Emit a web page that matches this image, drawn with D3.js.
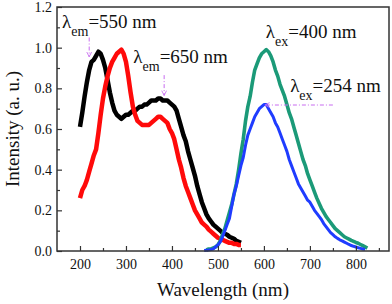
<!DOCTYPE html>
<html>
<head>
<meta charset="utf-8">
<script src="https://cdn.jsdelivr.net/npm/d3@7"></script>
<style>
  body { margin: 0; background: #fff; }
  svg { display: block; }
  svg text { font-family: "Liberation Serif", Tinos, "Times New Roman", "DejaVu Serif", serif !important; fill: #111; }
</style>
</head>
<body>
<svg id="chart" width="392" height="304"></svg>
<script>
// excitation spectra (monitored at 550 / 650 nm), 200-550 nm, step 5
const excWave = d3.range(200, 551, 5);
const exc550 = [0.61,0.68,0.76,0.83,0.89,0.93,0.94,0.96,0.98,0.97,0.94,0.90,0.84,0.78,0.73,0.69,0.67,0.66,0.65,0.66,
  0.67,0.67,0.68,0.69,0.69,0.70,0.71,0.71,0.72,0.72,0.73,0.74,0.74,0.74,0.75,0.75,0.74,0.74,0.74,0.73,
  0.72,0.71,0.69,0.65,0.61,0.57,0.54,0.49,0.45,0.41,0.37,0.32,0.28,0.24,0.21,0.18,0.16,0.145,0.13,0.12,
  0.11,0.10,0.09,0.085,0.08,0.07,0.065,0.06,0.05,0.045,0.04];
const exc650 = [0.26,0.30,0.32,0.35,0.39,0.43,0.47,0.50,0.58,0.67,0.75,0.81,0.86,0.90,0.93,0.95,0.97,0.98,0.99,0.97,
  0.93,0.86,0.78,0.71,0.67,0.64,0.63,0.62,0.62,0.62,0.62,0.63,0.64,0.65,0.66,0.66,0.65,0.64,0.63,0.60,
  0.58,0.55,0.50,0.45,0.41,0.36,0.32,0.29,0.26,0.23,0.20,0.18,0.16,0.14,0.13,0.12,0.105,0.095,0.085,0.075,
  0.065,0.06,0.055,0.05,0.045,0.04,0.04,0.035,0.035,0.03,0.03];

// emission spectra (excited at 400 / 254 nm)
const em400Wave = d3.range(475, 826, 5);
const em400 = [0.005,0.01,0.01,0.015,0.02,0.03,0.05,0.08,0.11,0.15,0.19,0.23,0.28,0.33,0.40,0.48,0.55,0.64,0.71,0.76,
  0.83,0.89,0.92,0.95,0.97,0.98,0.99,0.98,0.96,0.93,0.89,0.86,0.82,0.79,0.76,0.72,0.68,0.65,0.61,0.57,
  0.53,0.49,0.45,0.42,0.38,0.35,0.32,0.29,0.26,0.235,0.21,0.19,0.17,0.155,0.14,0.125,0.11,0.10,0.09,0.08,
  0.07,0.064,0.058,0.052,0.047,0.042,0.038,0.032,0.026,0.02,0.014];
const em254Wave = d3.range(470, 821, 5);
const em254 = [0.003,0.004,0.005,0.007,0.01,0.02,0.03,0.045,0.07,0.10,0.13,0.16,0.22,0.28,0.32,0.37,0.42,0.46,0.52,0.57,
  0.60,0.63,0.66,0.68,0.70,0.71,0.72,0.72,0.70,0.68,0.66,0.63,0.61,0.58,0.55,0.52,0.49,0.45,0.42,0.39,
  0.36,0.33,0.31,0.29,0.27,0.25,0.24,0.22,0.20,0.185,0.17,0.155,0.135,0.12,0.105,0.09,0.08,0.07,0.062,0.055,
  0.05,0.044,0.038,0.032,0.027,0.023,0.02,0.016,0.013,0.01,0.008];

const xTicks = [200, 300, 400, 500, 600, 700, 800];
const xMinor = [250, 350, 450, 550, 650, 750, 850];
const yTicks = [0.0, 0.2, 0.4, 0.6, 0.8, 1.0, 1.2];
const yMinor = [0.1, 0.3, 0.5, 0.7, 0.9, 1.1];

const series = [
  {name: "em550", x: excWave, y: exc550, color: "#000000", width: 4.5},
  {name: "em650", x: excWave, y: exc650, color: "#ff0a0a", width: 4.5},
  {name: "ex400", x: em400Wave, y: em400, color: "#1b9a78", width: 3.6},
  {name: "ex254", x: em254Wave, y: em254, color: "#1f3cff", width: 3}
];

// annotations: label anchor + arrow in data units
const labels = [
  {sub: "em", rest: "=550 nm", x: 161, y: 1.097},
  {sub: "em", rest: "=650 nm", x: 316, y: 0.925},
  {sub: "ex", rest: "=400 nm", x: 604, y: 1.048},
  {sub: "ex", rest: "=254 nm", x: 657, y: 0.782}
];
const arrows = [
  {x1: 220, y1: 1.05, x2: 220, y2: 0.955},
  {x1: 383, y1: 0.865, x2: 383, y2: 0.765},
  {x1: 750, y1: 0.718, x2: 602, y2: 0.718}
];

const margin = {top: 7, right: 3, bottom: 53, left: 57};
const W = 392, H = 304;
const FONT = "'Liberation Serif', Tinos, 'Times New Roman', 'DejaVu Serif', serif";
const svg = d3.select("#chart");

const x = d3.scaleLinear().domain([150, 872]).range([margin.left, W - margin.right]);
const y = d3.scaleLinear().domain([0, 1.2]).range([H - margin.bottom, margin.top]);

svg.append("defs").append("marker")
  .attr("id", "head")
  .attr("viewBox", "0 0 10 10")
  .attr("refX", 9).attr("refY", 5)
  .attr("markerWidth", 6).attr("markerHeight", 6)
  .attr("orient", "auto")
  .append("path")
  .attr("d", "M1,1 L9,5 L1,9")
  .attr("fill", "none")
  .attr("stroke", "#c86cf0")
  .attr("stroke-width", 1.4);

// curves
const line = d3.line().x(d => x(d[0])).y(d => y(d[1]));
series.forEach(s => {
  svg.append("path")
    .datum(s.x.map((w, i) => [w, s.y[i]]))
    .attr("d", line)
    .attr("fill", "none")
    .attr("stroke", s.color)
    .attr("stroke-width", s.width)
    .attr("stroke-linejoin", "round");
});

// axes, ticks pointing inward
const gx = svg.append("g").attr("transform", "translate(0," + (H - margin.bottom) + ")");
gx.call(d3.axisBottom(x).tickValues(xTicks).tickSize(-5).tickPadding(8));
gx.append("g").call(d3.axisBottom(x).tickValues(xMinor).tickSize(-3).tickFormat(""));
const gy = svg.append("g").attr("transform", "translate(" + margin.left + ",0)");
gy.call(d3.axisLeft(y).tickValues(yTicks).tickSize(-5).tickPadding(5).tickFormat(d3.format(".1f")));
gy.append("g").call(d3.axisLeft(y).tickValues(yMinor).tickSize(-3).tickFormat(""));
svg.selectAll(".domain").remove();
svg.selectAll("g").attr("font-family", FONT);
svg.selectAll(".tick line").attr("stroke", "#333").attr("stroke-width", 1.2);
svg.selectAll(".tick text").attr("font-size", 14).attr("fill", "#111");

svg.append("rect")
  .attr("x", margin.left).attr("y", margin.top)
  .attr("width", W - margin.left - margin.right)
  .attr("height", H - margin.top - margin.bottom)
  .attr("fill", "none").attr("stroke", "#333").attr("stroke-width", 1.5);

// axis titles
svg.append("text")
  .attr("x", (margin.left + W - margin.right) / 2).attr("y", 296)
  .attr("text-anchor", "middle").attr("font-size", 19).attr("font-family", FONT)
  .text("Wavelength (nm)");
svg.append("text")
  .attr("transform", "translate(19," + ((margin.top + H - margin.bottom) / 2) + ") rotate(-90)")
  .attr("text-anchor", "middle").attr("font-size", 19).attr("font-family", FONT)
  .text("Intensity (a. u.)");

// annotations
labels.forEach(l => {
  const t = svg.append("text").attr("x", x(l.x)).attr("y", y(l.y))
    .attr("font-size", 19).attr("font-family", FONT);
  t.append("tspan").text("λ");
  t.append("tspan").attr("font-size", 14).attr("dy", 8).text(l.sub);
  t.append("tspan").attr("dy", -8).text(l.rest);
});
arrows.forEach(a => {
  svg.append("line")
    .attr("x1", x(a.x1)).attr("y1", y(a.y1))
    .attr("x2", x(a.x2)).attr("y2", y(a.y2))
    .attr("stroke", "#c86cf0").attr("stroke-width", 1)
    .attr("stroke-dasharray", "4,2,1,2")
    .attr("marker-end", "url(#head)");
});
</script>
</body>
</html>
